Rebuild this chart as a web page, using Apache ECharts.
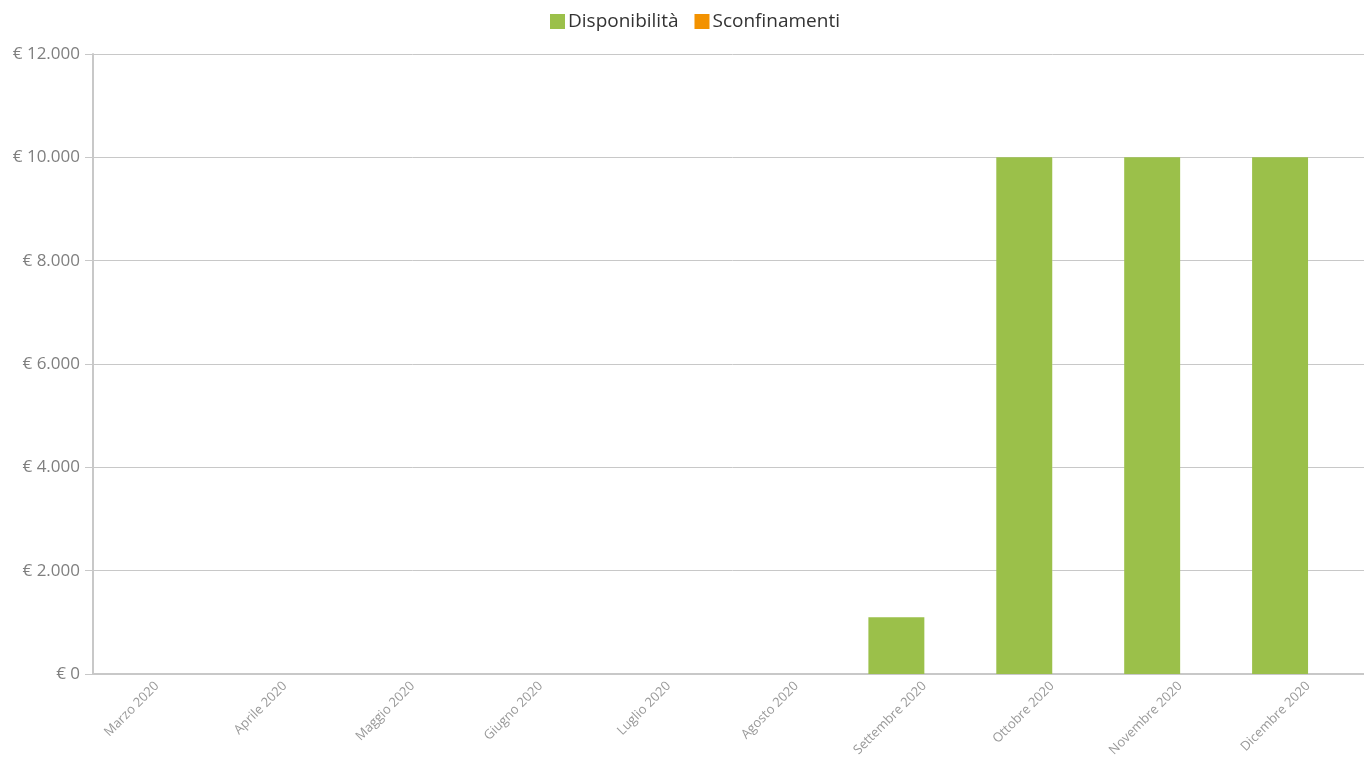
<!DOCTYPE html>
<html>
<head>
<meta charset="utf-8">
<script src="https://cdn.jsdelivr.net/npm/echarts@6/dist/echarts.min.js"></script>
<style>
    html, body { margin: 0; padding: 0; background: #fff; overflow: hidden; }
    /* il grafico originale esce di qualche pixel oltre il bordo destro */
    #chart { width: 1374px; height: 760px; }
</style>
</head>
<body>
<div id="chart"></div>
<script>
// dati del grafico
const mesi = ['Marzo 2020', 'Aprile 2020', 'Maggio 2020', 'Giugno 2020', 'Luglio 2020',
    'Agosto 2020', 'Settembre 2020', 'Ottobre 2020', 'Novembre 2020', 'Dicembre 2020'];
const disponibilita = [0, 0, 0, 0, 0, 0, 1100, 10000, 10000, 10000];
const sconfinamenti = [0, 0, 0, 0, 0, 0, 0, 0, 0, 0];

const assiColor = '#c8c8c8';
const testoColor = '#7f7f7f';

function euro(v) {
    return '€ ' + String(v).replace(/\B(?=(\d{3})+(?!\d))/g, '.');
}

let chart = echarts.init(document.getElementById('chart'));
chart.setOption({
    animation: false,
    textStyle: { fontFamily: 'Open Sans' },
    legend: {
        top: 7,
        left: 545,
        icon: 'rect',
        itemWidth: 15,
        itemHeight: 15,
        itemGap: 16,
        textStyle: { color: '#333', fontSize: 19, padding: [0, 0, 0, -2] },
        data: ['Disponibilità', 'Sconfinamenti']
    },
    grid: { left: 93, top: 54, bottom: 86, right: 2, containLabel: false },
    xAxis: {
        type: 'category',
        data: mesi,
        axisLine: { lineStyle: { color: assiColor, width: 2 } },
        axisTick: { alignWithLabel: true, length: 5, lineStyle: { color: assiColor } },
        axisLabel: { rotate: 45, color: '#999', fontSize: 13, margin: 10, interval: 0 }
    },
    yAxis: {
        type: 'value',
        min: 0,
        max: 12000,
        interval: 2000,
        axisLine: { show: true, lineStyle: { color: assiColor, width: 2 } },
        axisTick: { show: true, length: 8, lineStyle: { color: assiColor } },
        splitLine: { lineStyle: { color: assiColor } },
        axisLabel: { color: testoColor, fontSize: 17, margin: 13, formatter: euro }
    },
    series: [
        {
            name: 'Disponibilità',
            type: 'bar',
            data: disponibilita,
            barGap: '0%',
            barCategoryGap: '12.5%',
            itemStyle: { color: '#9bc04a' }
        },
        {
            name: 'Sconfinamenti',
            type: 'bar',
            data: sconfinamenti,
            itemStyle: { color: '#f39200' }
        }
    ]
});
</script>
</body>
</html>
